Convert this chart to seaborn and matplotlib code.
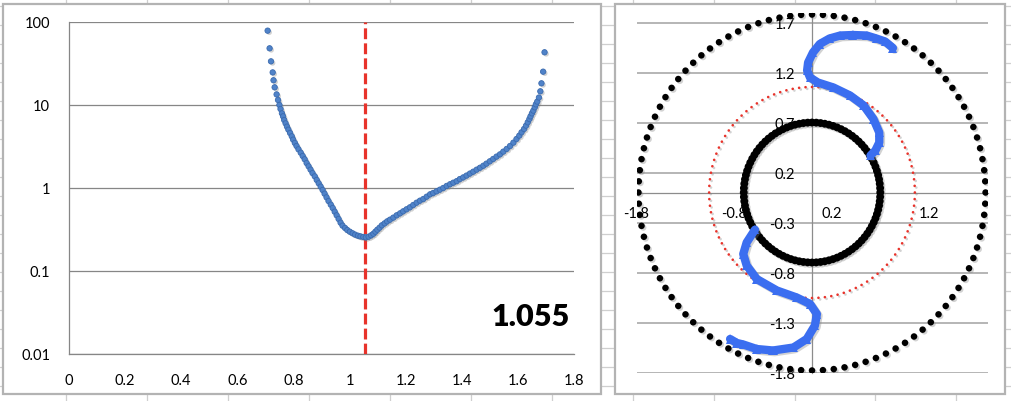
import numpy as np
import pandas as pd
import matplotlib
matplotlib.use('Agg')
import matplotlib.pyplot as plt
import matplotlib.patheffects as pe
from matplotlib.patches import Rectangle
import seaborn as sns

# =============================================================================
# Dados
# =============================================================================

# Curva da esquerda (eixo y em escala log)
x_curva = [0.708, 0.715, 0.720, 0.726, 0.729, 0.733, 0.740, 0.745, 0.750, 0.754,
           0.759, 0.763, 0.767, 0.772, 0.777, 0.782, 0.788, 0.794, 0.799, 0.805,
           0.811, 0.818, 0.826, 0.833, 0.840, 0.847, 0.854, 0.861, 0.868, 0.876,
           0.883, 0.890, 0.897, 0.904, 0.911, 0.918, 0.925, 0.933, 0.940, 0.947,
           0.954, 0.961, 0.968, 0.975, 0.984, 0.992, 1.001, 1.011, 1.020, 1.030,
           1.039, 1.049, 1.058, 1.068, 1.077, 1.085, 1.092, 1.099, 1.107, 1.115,
           1.125, 1.134, 1.144, 1.156, 1.168, 1.180, 1.191, 1.203, 1.215, 1.227,
           1.239, 1.251, 1.263, 1.275, 1.287, 1.298, 1.310, 1.322, 1.334, 1.346,
           1.358, 1.370, 1.382, 1.393, 1.405, 1.417, 1.429, 1.441, 1.453, 1.465,
           1.477, 1.488, 1.500, 1.512, 1.524, 1.536, 1.548, 1.560, 1.572, 1.584,
           1.595, 1.605, 1.613, 1.622, 1.629, 1.635, 1.641, 1.645, 1.650, 1.655,
           1.660, 1.664, 1.669, 1.675, 1.680, 1.684, 1.690, 1.695]
y_curva = [78.0, 47.8, 33.3, 24.5, 19.7, 16.2, 13.3, 11.4, 9.92, 8.87,
           7.87, 7.24, 6.54, 5.96, 5.44, 5.00, 4.56, 4.16, 3.79, 3.46,
           3.18, 2.90, 2.64, 2.41, 2.20, 1.98, 1.81, 1.65, 1.50, 1.37,
           1.24, 1.13, 1.03, 0.938, 0.847, 0.765, 0.691, 0.625, 0.569, 0.514,
           0.465, 0.420, 0.379, 0.349, 0.327, 0.309, 0.295, 0.282, 0.272, 0.264,
           0.259, 0.255, 0.252, 0.257, 0.267, 0.279, 0.295, 0.312, 0.330, 0.352,
           0.372, 0.393, 0.412, 0.436, 0.465, 0.491, 0.519, 0.549, 0.580, 0.619,
           0.660, 0.698, 0.731, 0.780, 0.832, 0.863, 0.904, 0.947, 0.992, 1.05,
           1.10, 1.15, 1.20, 1.27, 1.33, 1.40, 1.48, 1.56, 1.65, 1.74,
           1.84, 1.95, 2.08, 2.22, 2.37, 2.52, 2.72, 2.93, 3.18, 3.49,
           3.86, 4.24, 4.65, 5.10, 5.59, 6.13, 6.72, 7.24, 7.87, 8.48,
           9.30, 10.1, 10.9, 12.2, 14.5, 18.1, 25.0, 42.8]
x_critico = 1.055

x_ticks_esq = [0, 0.2, 0.4, 0.6, 0.8, 1, 1.2, 1.4, 1.6, 1.8]
x_labels_esq = ['0', '0.2', '0.4', '0.6', '0.8', '1', '1.2', '1.4', '1.6', '1.8']
y_ticks_esq = [0.01, 0.1, 1, 10, 100]
y_labels_esq = ['0.01', '0.1', '1', '10', '100']

# Curva em S (gráfico da direita), ramo superior e inferior
s_sup_x = [0.60, 0.65, 0.69, 0.69, 0.63, 0.53, 0.39, 0.22, 0.06, -0.02, -0.05,
           -0.04, 0.01, 0.08, 0.18, 0.29, 0.42, 0.56, 0.66, 0.75, 0.83]
s_sup_y = [0.37, 0.42, 0.50, 0.60, 0.735, 0.87, 0.97, 1.05, 1.10, 1.15, 1.22,
           1.30, 1.40, 1.485, 1.54, 1.57, 1.575, 1.57, 1.54, 1.51, 1.445]
s_inf_x = [-0.585, -0.67, -0.705, -0.67, -0.567, -0.36, -0.157, -0.02, 0.05,
           0.03, -0.054, -0.19, -0.40, -0.567, -0.705, -0.77, -0.84]
s_inf_y = [-0.372, -0.50, -0.615, -0.73, -0.865, -0.98, -1.05, -1.115, -1.215,
           -1.33, -1.465, -1.55, -1.58, -1.565, -1.52, -1.505, -1.465]

# Círculos (raio, 100 pontos cada)
raio_externo = 1.78
raio_critico = 1.055
raio_interno = 0.70
n_pontos = 100

x_ticks_dir = [-1.8, -0.8, 0.2, 1.2]
y_ticks_dir = [-1.8, -1.3, -0.8, -0.3, 0.2, 0.7, 1.2, 1.7]

# =============================================================================
# Configurações gerais
# =============================================================================
sns.set_theme(style='white')
plt.rcParams['font.family'] = ['Lato', 'DejaVu Sans']
plt.rcParams['font.size'] = 10
plt.rcParams['text.color'] = 'black'

fig = plt.figure(figsize=(10.11, 4.02), dpi=100)

# Fundo estilo planilha (linhas das células) e moldura dos gráficos
bg = fig.add_axes([0, 0, 1, 1])
bg.set_xlim(0, 1011)
bg.set_ylim(402, 0)
bg.axis('off')
for xc in np.arange(66, 1011, 80.95):
    bg.axvline(xc, color='#CFCFCF', lw=0.9, zorder=1)
for yc in np.arange(6.7, 402, 19.03):
    bg.axhline(yc, color='#CFCFCF', lw=0.9, zorder=1)
bg.add_patch(Rectangle((3, 5), 597.5, 390, facecolor='white',
                       edgecolor='#B3B3B3', lw=1.6, zorder=3))
bg.add_patch(Rectangle((615, 5), 390, 390, facecolor='white',
                       edgecolor='#B3B3B3', lw=1.6, zorder=3))

sombra = [pe.SimplePatchShadow(offset=(1.2, -1.2), shadow_rgbFace='#808080', alpha=0.35),
          pe.Normal()]
sombra_linha = [pe.SimpleLineShadow(offset=(1.2, -1.2), shadow_color='#808080', alpha=0.35),
                pe.Normal()]

# =============================================================================
# Gráfico da esquerda
# =============================================================================
ax1 = fig.add_axes([69 / 1011, (402 - 354.7) / 402, 505 / 1011, 332 / 402])
ax1.set_facecolor('none')
df_curva = pd.DataFrame({'x': x_curva, 'y': y_curva})
sns.scatterplot(data=df_curva, x='x', y='y', ax=ax1, s=15, color='#5083C9',
                edgecolor='#3A6AAE', linewidth=0.6, zorder=4)
for col in ax1.collections:
    col.set_path_effects(sombra)

ax1.axvline(x_critico, color='#E8332B', lw=2.3, ls=(0, (3.4, 1.3)), zorder=3)

ax1.set_yscale('log')
ax1.set_xlim(0, 1.8)
ax1.set_ylim(0.01, 100)
ax1.set_xticks(x_ticks_esq)
ax1.set_xticklabels(x_labels_esq)
ax1.set_yticks(y_ticks_esq)
ax1.set_yticklabels(y_labels_esq)
ax1.minorticks_off()
ax1.yaxis.grid(True, color='#868686', lw=0.9)
ax1.xaxis.grid(False)
for lado in ['top', 'right']:
    ax1.spines[lado].set_visible(False)
for lado in ['left', 'bottom']:
    ax1.spines[lado].set_color('#868686')
    ax1.spines[lado].set_linewidth(0.9)
ax1.tick_params(axis='both', length=5, width=0.9, color='#868686',
                labelsize=10.5, labelcolor='black')
ax1.tick_params(axis='y', pad=8.5)
ax1.tick_params(axis='x', pad=9)
ax1.set_xlabel('')
ax1.set_ylabel('')
ax1.text(0.914, 0.114, f'{x_critico:.3f}', transform=ax1.transAxes, color='black',
         ha='center', va='center', fontsize=22, fontweight='heavy', zorder=6)

# =============================================================================
# Gráfico da direita
# =============================================================================
ax2 = fig.add_axes([636.5 / 1011, 28.5 / 402, 351 / 1011, 360 / 402])
ax2.set_facecolor('none')
ax2.set_axisbelow(True)

ang = np.linspace(0, 2 * np.pi, n_pontos, endpoint=False)
circ_ext = pd.DataFrame({'x': raio_externo * np.cos(ang), 'y': raio_externo * np.sin(ang)})
circ_crit = pd.DataFrame({'x': raio_critico * np.cos(ang), 'y': raio_critico * np.sin(ang)})
circ_int = pd.DataFrame({'x': raio_interno * np.cos(ang), 'y': raio_interno * np.sin(ang)})

sns.scatterplot(data=circ_ext, x='x', y='y', ax=ax2, s=22, color='black',
                linewidth=0, zorder=3)
sns.scatterplot(data=circ_crit, x='x', y='y', ax=ax2, s=3.5, color='#E8332B',
                linewidth=0, zorder=3)
sns.scatterplot(data=circ_int, x='x', y='y', ax=ax2, s=32, color='black',
                linewidth=0, zorder=3)
for col in ax2.collections:
    col.set_path_effects(sombra)

for sx, sy in [(s_sup_x, s_sup_y), (s_inf_x, s_inf_y)]:
    sns.lineplot(x=sx, y=sy, ax=ax2, sort=False, estimator=None, color='#3B6EF0',
                 lw=6, marker='^', markersize=6.5, markeredgewidth=0, zorder=5)
for ln in ax2.lines:
    ln.set_path_effects(sombra_linha)

ax2.set_xlim(-1.8, 1.8)
ax2.set_ylim(-1.8, 1.8)
ax2.set_xticks(x_ticks_dir)
ax2.set_xticklabels([f'{v:.1f}' for v in x_ticks_dir])
ax2.set_yticks(y_ticks_dir)
ax2.set_yticklabels([f'{v:.1f}' for v in y_ticks_dir])
ax2.yaxis.grid(True, color='#B0B0B0', lw=1.3)
ax2.xaxis.grid(False)
ax2.spines['left'].set_position(('data', 0))
ax2.spines['bottom'].set_position(('data', 0))
for lado in ['top', 'right']:
    ax2.spines[lado].set_visible(False)
for lado in ['left', 'bottom']:
    ax2.spines[lado].set_color('#8C8C8C')
    ax2.spines[lado].set_linewidth(0.9)
ax2.tick_params(axis='y', direction='out', length=4, width=0.9, color='#8C8C8C',
                labelsize=10.5, labelcolor='black', pad=8)
ax2.tick_params(axis='x', direction='inout', length=6, width=0.9, color='#8C8C8C',
                labelsize=10.5, labelcolor='black', pad=7)
ax2.set_xlabel('')
ax2.set_ylabel('')

plt.savefig('out.png', dpi=100)
plt.close()
